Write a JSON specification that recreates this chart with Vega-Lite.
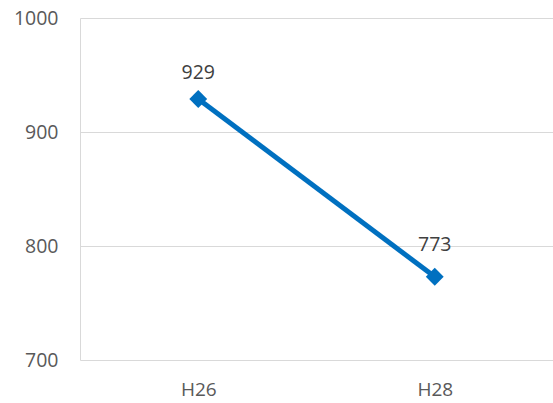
{
  "$schema": "https://vega.github.io/schema/vega-lite/v6.json",
  "width": 473,
  "height": 342,
  "autosize": {"type": "none"},
  "padding": {"left": 80, "top": 18, "right": 0, "bottom": 43},
  "background": "white",
  "config": {
    "view": {"stroke": null},
    "font": "Open Sans"
  },
  "data": {"values": [
    {"year": "H26", "value": 929},
    {"year": "H28", "value": 773}
  ]},
  "encoding": {
    "x": {
      "field": "year", "type": "nominal", "title": null,
      "scale": {"paddingInner": 0, "paddingOuter": 0},
      "axis": {"labelAngle": 0, "domain": false, "ticks": false, "labelPadding": 20, "labelFontSize": 19, "labelColor": "#595959", "labelFont": "Open Sans"}
    },
    "y": {
      "field": "value", "type": "quantitative", "title": null,
      "scale": {"domain": [700, 1000], "nice": false, "zero": false},
      "axis": {"values": [700, 800, 900, 1000], "format": "d", "domain": true, "domainColor": "#d9d9d9", "domainWidth": 1, "ticks": false, "labelPadding": 22, "labelFontSize": 19.5, "labelColor": "#595959", "gridColor": "#d9d9d9", "gridWidth": 1.2, "labelFont": "Open Sans"}
    }
  },
  "layer": [
    {"mark": {"type": "line", "color": "#0070C0", "strokeWidth": 5}},
    {"mark": {"type": "point", "shape": "diamond", "filled": true, "color": "#0070C0", "size": 320, "opacity": 1}},
    {"transform": [{"filter": "datum.year == 'H26'"}],
     "mark": {"type": "text", "dy": -20, "baseline": "alphabetic", "fontSize": 19.5, "color": "#404040", "font": "Open Sans"},
     "encoding": {"text": {"field": "value", "type": "quantitative"}}},
    {"transform": [{"filter": "datum.year == 'H28'"}],
     "mark": {"type": "text", "dy": -26, "baseline": "alphabetic", "fontSize": 19.5, "color": "#404040", "font": "Open Sans"},
     "encoding": {"text": {"field": "value", "type": "quantitative"}}}
  ]
}
